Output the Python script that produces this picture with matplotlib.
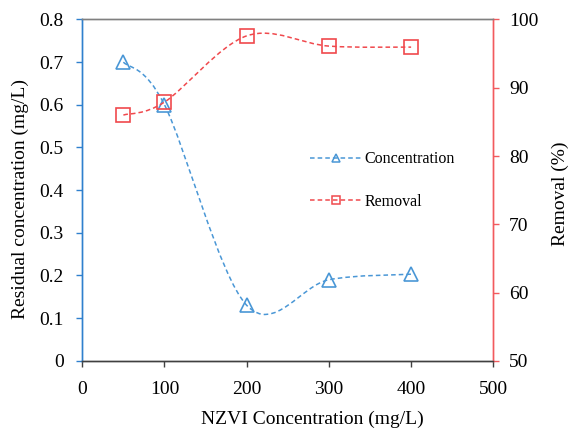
import matplotlib
matplotlib.use("Agg")
import matplotlib.pyplot as plt
from matplotlib.path import Path
from matplotlib.patches import PathPatch
from matplotlib.lines import Line2D
import numpy as np

plt.rcParams['font.family'] = ['Liberation Serif', 'DejaVu Serif']

# data
nzvi = [50, 100, 200, 300, 400]
residual = [0.70, 0.60, 0.13, 0.19, 0.203]
removal = [86.0, 87.9, 97.6, 96.1, 95.95]

BLUE = '#4A97D6'
BLUE_AX = '#2F80CE'
RED = '#F0494D'
RED_AX = '#F25A5E'
DASH = (0, (3, 2))


def smooth_path(xs, ys):
    # excel-like smoothed line: bezier segments with catmull-rom control points
    pts = np.column_stack([xs, ys]).astype(float)
    n = len(pts)
    verts = [pts[0]]
    codes = [Path.MOVETO]
    for i in range(n - 1):
        p0 = pts[i - 1] if i > 0 else pts[i]
        p1 = pts[i]
        p2 = pts[i + 1]
        p3 = pts[i + 2] if i + 2 < n else pts[i + 1]
        c1 = p1 + (p2 - p0) / 6.0
        c2 = p2 - (p3 - p1) / 6.0
        verts += [c1, c2, p2]
        codes += [Path.CURVE4] * 3
    return Path(verts, codes)


fig = plt.figure(figsize=(5.69, 4.28), dpi=100)
ax = fig.add_axes([0.1446, 0.157, 0.7224, 0.7975])
ax2 = ax.twinx()

ax.add_patch(PathPatch(smooth_path(nzvi, residual), fill=False, edgecolor=BLUE,
                       lw=1.1, linestyle=DASH))
ax.plot(nzvi, residual, linestyle='none', marker='^', markersize=10,
        markerfacecolor='none', markeredgecolor=BLUE, markeredgewidth=1.2)

ax2.add_patch(PathPatch(smooth_path(nzvi, removal), fill=False, edgecolor=RED,
                        lw=1.1, linestyle=DASH))
ax2.plot(nzvi, removal, linestyle='none', marker='s', markersize=10,
         markerfacecolor='none', markeredgecolor=RED, markeredgewidth=1.2)

ax.set_xlim(0, 500)
ax.set_ylim(0, 0.8)
ax2.set_ylim(50, 100)
ax.set_xticks([0, 100, 200, 300, 400, 500])
ax.set_yticks(np.arange(0, 0.81, 0.1))
ax.set_yticklabels(['0', '0.1', '0.2', '0.3', '0.4', '0.5', '0.6', '0.7', '0.8'])
ax2.set_yticks([50, 60, 70, 80, 90, 100])

for a in (ax, ax2):
    for s in a.spines.values():
        s.set_linewidth(1.0)
    a.spines['top'].set_color('#808080')
    a.spines['bottom'].set_color('#404040')
    a.spines['left'].set_color(BLUE_AX)
    a.spines['right'].set_color(RED_AX)

ax.tick_params(axis='x', direction='out', length=4.3, width=1, color='#404040',
               labelsize=14, pad=10)
ax.tick_params(axis='y', direction='out', length=4.3, width=1, color=BLUE_AX,
               labelsize=14, pad=9)
ax2.tick_params(axis='y', direction='out', length=4.3, width=1, color=RED_AX,
                labelsize=14, pad=7)

ax.set_xlabel('NZVI Concentration (mg/L)', fontsize=14)
ax.set_ylabel('Residual concentration (mg/L)', fontsize=14)
ax2.set_ylabel('Removal (%)', fontsize=14, rotation=90)
ax.xaxis.set_label_coords(0.559, -0.145)
ax.yaxis.set_label_coords(-0.13, 0.475)
ax2.yaxis.set_label_coords(1.143, 0.489)

handles = [
    Line2D([], [], color=BLUE, lw=1.1, linestyle=DASH, marker='^', markersize=6,
           markerfacecolor='none', markeredgecolor=BLUE, markeredgewidth=1.1),
    Line2D([], [], color=RED, lw=1.1, linestyle=DASH, marker='s', markersize=6,
           markerfacecolor='none', markeredgecolor=RED, markeredgewidth=1.1),
]
ax2.legend(handles, ['Concentration', 'Removal'], frameon=False, fontsize=11.5,
           loc='upper left', bbox_to_anchor=(0.52, 0.656), handlelength=3.2,
           handletextpad=0.2, labelspacing=1.65)

fig.savefig('out.png', dpi=100)
